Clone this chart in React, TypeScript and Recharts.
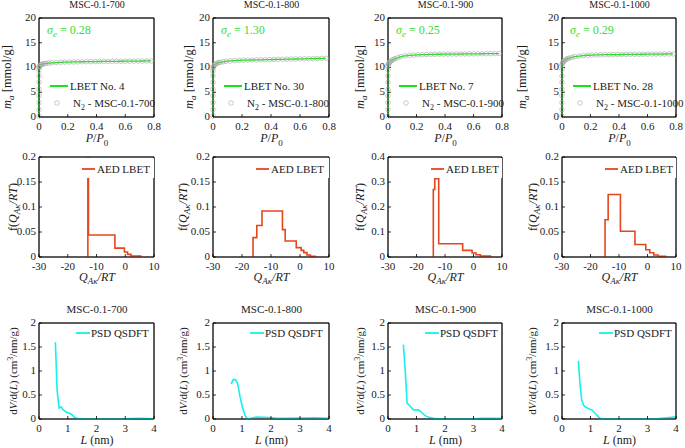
import React from 'react';
import { ComposedChart, Line, Scatter, XAxis, YAxis, ReferenceArea } from 'recharts';

const FONT = '"Liberation Serif", "DejaVu Serif", serif';
const GREEN = '#16e616';
const GREEN_TEXT = '#33dd33';
const RED = '#e5461e';
const CYAN = '#14f0f0';
const RING = '#a6a6a6';

// sample names and legend numbers
const samples = ['MSC-0.1-700', 'MSC-0.1-800', 'MSC-0.1-900', 'MSC-0.1-1000'];
const sigmaE = ['0.28', '1.30', '0.25', '0.29'];
const lbetNo = ['4', '30', '7', '28'];

// N2 isotherms: relative pressure and uptake (mmol/g)
const pRel = [0, 0, 0, 0, 0, 0, 0, 0, 0, 0.002, 0.005, 0.01, 0.015, 0.02, 0.03, 0.04, 0.05, 0.07, 0.09,
  0.12, 0.15, 0.18, 0.21, 0.24, 0.27, 0.3, 0.33, 0.36, 0.39, 0.42, 0.45, 0.48, 0.51, 0.54, 0.57, 0.6,
  0.63, 0.66, 0.69, 0.72, 0.75, 0.78];
const uptake700 = [0.2, 1.5, 2.9, 4.3, 5.6, 7.0, 8.3, 9.4, 10.0, 10.2, 10.35, 10.5, 10.6, 10.65, 10.75, 10.8, 10.85, 10.9, 10.95,
  11.0, 11.05, 11.08, 11.1, 11.12, 11.14, 11.16, 11.18, 11.19, 11.2, 11.21, 11.22, 11.23, 11.24, 11.25, 11.26, 11.27,
  11.28, 11.29, 11.3, 11.31, 11.32, 11.33];
const uptake800 = [0.2, 1.5, 2.9, 4.3, 5.6, 7.0, 8.3, 9.3, 9.9, 10.1, 10.3, 10.5, 10.65, 10.75, 10.9, 11.0, 11.05, 11.15, 11.25,
  11.32, 11.38, 11.43, 11.47, 11.5, 11.52, 11.54, 11.56, 11.58, 11.6, 11.62, 11.64, 11.66, 11.68, 11.7, 11.72, 11.74,
  11.76, 11.78, 11.8, 11.82, 11.84, 11.86];
const uptake900 = [0.2, 1.5, 2.9, 4.3, 5.6, 7.0, 8.3, 9.5, 10.3, 10.6, 10.8, 11.0, 11.15, 11.3, 11.5, 11.65, 11.8, 12.0, 12.2,
  12.35, 12.45, 12.52, 12.57, 12.6, 12.62, 12.64, 12.66, 12.68, 12.69, 12.7, 12.71, 12.72, 12.73, 12.74, 12.75, 12.76,
  12.77, 12.78, 12.79, 12.8, 12.81, 12.82];
const uptake1000 = [0.2, 1.5, 2.9, 4.3, 5.6, 7.0, 8.3, 9.6, 10.5, 10.8, 11.0, 11.2, 11.35, 11.45, 11.65, 11.8, 11.9, 12.05, 12.2,
  12.3, 12.4, 12.47, 12.52, 12.55, 12.57, 12.59, 12.6, 12.61, 12.62, 12.63, 12.64, 12.65, 12.66, 12.67, 12.68, 12.69,
  12.7, 12.71, 12.72, 12.73, 12.74, 12.75];

// adsorption energy distributions (step edges, value holds until next edge)
const aedQ700 = [-13.0, -13.0, -12.8, -3.6, -0.3, 0.8, 2.0, 5.4];
const aedF700 = [0, 0.25, 0.044, 0.0178, 0.0099, 0.0053, 0.002, 0];
const aedQ800 = [-16.2, -16.2, -14.9, -13.1, -6.05, -5.1, -1.3, 0.4, 1.3, 2.4, 3.6, 5.3];
const aedF800 = [0, 0.0387, 0.063, 0.092, 0.0547, 0.032, 0.0187, 0.0133, 0.0087, 0.004, 0.0015, 0];
const aedQ900 = [-14.1, -14.1, -13.6, -12.2, -3.8, -0.5, 0.9, 2.4, 5.9];
const aedF900 = [0, 0.27, 0.313, 0.053, 0.0264, 0.0158, 0.009, 0.004, 0];
const aedQ1000 = [-14.9, -14.9, -13.8, -9.5, -4.4, -0.6, 0.8, 2.2, 3.7, 6.3];
const aedF1000 = [0, 0.0746, 0.125, 0.0515, 0.025, 0.0145, 0.0086, 0.004, 0.0015, 0];

// pore size distributions (QSDFT)
const psdL700 = [0.57, 0.63, 0.7, 0.77, 0.85, 0.95, 1.06, 1.15, 1.23, 1.34, 1.63, 2.0, 2.5, 3.0, 3.2, 3.5, 3.8, 4.0];
const psdV700 = [1.6, 0.6, 0.23, 0.25, 0.19, 0.14, 0.12, 0.09, 0.035, 0.01, 0, 0, 0, 0.005, 0.01, 0.015, 0.01, 0.005];
const psdL800 = [0.625, 0.7, 0.77, 0.85, 0.93, 1.02, 1.11, 1.19, 1.31, 1.5, 1.76, 2.16, 2.5, 3.0, 3.5, 4.0];
const psdV800 = [0.73, 0.82, 0.82, 0.74, 0.47, 0.23, 0.07, 0, 0.015, 0.04, 0.035, 0.02, 0.015, 0.02, 0.025, 0.015];
const psdL900 = [0.54, 0.61, 0.67, 0.77, 0.89, 1.04, 1.1, 1.21, 1.3, 1.44, 1.67, 2.0, 3.0, 3.3, 3.7, 4.0];
const psdV900 = [1.55, 0.95, 0.33, 0.27, 0.19, 0.19, 0.18, 0.12, 0.07, 0.035, 0.007, 0, 0.005, 0.015, 0.015, 0.008];
const psdL1000 = [0.575, 0.63, 0.69, 0.77, 0.885, 1.07, 1.18, 1.3, 1.38, 2.0, 3.0, 3.3, 3.6, 4.0];
const psdV1000 = [1.21, 0.74, 0.4, 0.27, 0.23, 0.18, 0.11, 0.035, 0, 0, 0, 0.005, 0.02, 0.045];

// axis ticks
const isoXTicks = [0, 0.2, 0.4, 0.6, 0.8];
const isoYTicks = [0, 5, 10, 15, 20];
const aedXTicks = [-30, -20, -10, 0, 10];
const aedYTicks = [0, 0.05, 0.1, 0.15, 0.2];
const aedYTicks900 = [0, 0.1, 0.2, 0.3, 0.4];
const psdXTicks = [0, 1, 2, 3, 4];
const psdYTicks = [0, 0.5, 1, 1.5, 2];

const zip = (xs: number[], ys: number[]) => xs.map((x, i) => ({ x, y: ys[i] }));

const isoData = [uptake700, uptake800, uptake900, uptake1000].map(u => zip(pRel, u));
const aedData = [zip(aedQ700, aedF700), zip(aedQ800, aedF800), zip(aedQ900, aedF900), zip(aedQ1000, aedF1000)];
const psdData = [zip(psdL700, psdV700), zip(psdL800, psdV800), zip(psdL900, psdV900), zip(psdL1000, psdV1000)];

// layout of the 4x3 grid (plot areas)
const colLeft = [39, 213, 388, 562];
const colWidth = [116, 117, 115, 115];
const rowTop = [17, 156, 322];
const rowHeight = [100, 101, 97];
const PAD_L = 32, PAD_R = 6, PAD_T = 6, PAD_B = 22;

type PanelProps = {
  col: number;
  row: number;
  data: { x: number; y: number }[];
  xDomain: [number, number];
  xTicks: number[];
  yDomain: [number, number];
  yTicks: number[];
  clip?: boolean;
  children: React.ReactNode;
};

const axisLine = { stroke: '#000', strokeWidth: 0.8 };
const tickLine = { stroke: '#000', strokeWidth: 0.8 };

function Panel({ col, row, data, xDomain, xTicks, yDomain, yTicks, clip, children }: PanelProps) {
  const w = PAD_L + colWidth[col] + PAD_R;
  const h = PAD_T + rowHeight[row] + PAD_B;
  const tick = { fill: '#1a1a1a', fontSize: 11, fontFamily: FONT };
  return (
    <div style={{ position: 'absolute', left: colLeft[col] - PAD_L, top: rowTop[row] - PAD_T, width: w, height: h }}>
      <ComposedChart width={w} height={h} data={data} margin={{ top: PAD_T, right: PAD_R, bottom: 0, left: 0 }}>
        <XAxis xAxisId="b" dataKey="x" type="number" domain={xDomain} ticks={xTicks} interval={0} height={PAD_B}
          tickSize={-3} tickMargin={8} tick={tick} axisLine={axisLine} tickLine={tickLine} allowDataOverflow={clip} />
        <XAxis xAxisId="t" orientation="top" dataKey="x" type="number" domain={xDomain} ticks={xTicks} interval={0}
          height={1} tickSize={-3} tick={false} axisLine={axisLine} tickLine={tickLine} />
        <YAxis yAxisId="l" dataKey="y" type="number" domain={yDomain} ticks={yTicks} interval={0} width={PAD_L}
          tickSize={-3} tickMargin={6} tick={{ ...tick, dy: -1 }} axisLine={axisLine} tickLine={tickLine} allowDataOverflow={clip} />
        <YAxis yAxisId="r" orientation="right" dataKey="y" type="number" domain={yDomain} ticks={yTicks} interval={0}
          width={1} tickSize={-3} tick={false} axisLine={axisLine} tickLine={tickLine} />
        <ReferenceArea xAxisId="b" yAxisId="l" x1={xDomain[0]} x2={xDomain[1]} y1={yDomain[0]} y2={yDomain[1]}
          fill="none" stroke="#000" strokeWidth={0.8} ifOverflow="visible" />
        {children}
      </ComposedChart>
    </div>
  );
}

const ring = (props: any) => (
  <circle cx={props.cx} cy={props.cy} r={2.3} fill="none" stroke={RING} strokeWidth={0.6} />
);

const row1YLab = [7, 189, 360, 522];
const row2YLab = [13, 183, 360, 533];
const row3YLab = [13, 183, 360, 532];

function Overlay() {
  const els: React.ReactNode[] = [];
  for (let c = 0; c < 4; c++) {
    const L = colLeft[c];
    const W = colWidth[c];
    const cx = L + W / 2;
    const t1 = rowTop[0], t2 = rowTop[1], t3 = rowTop[2];
    els.push(
      <g key={c}>
        {/* row 1 */}
        <text x={cx} y={8} textAnchor="middle" fontSize={10}>{samples[c]}</text>
        <text x={L + 8} y={t1 + 17} fontSize={12} fill={GREEN_TEXT}>
          <tspan fontStyle="italic">σ</tspan>
          <tspan fontStyle="italic" fontSize={9} dy={3}>e</tspan>
          <tspan dy={-3}> = {sigmaE[c]}</tspan>
        </text>
        <line x1={L + 11} x2={L + 29} y1={t1 + 69} y2={t1 + 69} stroke={GREEN} strokeWidth={2} />
        <text x={L + 31} y={t1 + 73} fontSize={11}>LBET No. {lbetNo[c]}</text>
        <circle cx={L + 18} cy={t1 + 86} r={2.3} fill="none" stroke={RING} strokeWidth={0.6} />
        <text x={L + 34} y={t1 + 90} fontSize={11}>
          N<tspan fontSize={8} dy={3}>2</tspan><tspan dy={-3}> - {samples[c]}</tspan>
        </text>
        <text x={cx} y={142} textAnchor="middle" fontSize={12}>
          <tspan fontStyle="italic">P</tspan>/<tspan fontStyle="italic">P</tspan>
          <tspan fontSize={9} dy={4}>0</tspan>
        </text>
        <text x={row1YLab[c] + 4} y={77} transform={`rotate(-90 ${row1YLab[c] + 4} 77)`} textAnchor="middle" fontSize={12.5}>
          <tspan fontStyle="italic">m</tspan>
          <tspan fontStyle="italic" fontSize={9} dy={3}>a</tspan>
          <tspan dy={-3}> [mmol/g]</tspan>
        </text>

        {/* row 2 */}
        <rect x={L + 36} y={t2 + 2} width={W - 37} height={20} fill="#fff" />
        <line x1={L + 43} x2={L + 56} y1={t2 + 13} y2={t2 + 13} stroke={RED} strokeWidth={1.8} />
        <text x={L + 58} y={t2 + 17} fontSize={11}>AED LBET</text>
        <text x={cx} y={281} textAnchor="middle" fontSize={12}>
          <tspan fontStyle="italic">Q</tspan>
          <tspan fontStyle="italic" fontSize={9} dy={3}>Aκ</tspan>
          <tspan fontStyle="italic" dy={-3}>/RT</tspan>
        </text>
        <text x={row2YLab[c] + 4} y={207} transform={`rotate(-90 ${row2YLab[c] + 4} 207)`} textAnchor="middle" fontSize={12}>
          f(<tspan fontStyle="italic">Q</tspan>
          <tspan fontStyle="italic" fontSize={9} dy={3}>Aκ</tspan>
          <tspan fontStyle="italic" dy={-3}>/RT</tspan>)
        </text>

        {/* row 3 */}
        <text x={cx} y={313} textAnchor="middle" fontSize={11}>{samples[c]}</text>
        <line x1={L + 37} x2={L + 51} y1={t3 + 11} y2={t3 + 11} stroke={CYAN} strokeWidth={1.8} />
        <text x={L + 52} y={t3 + 15} fontSize={11}>PSD QSDFT</text>
        <text x={cx} y={444} textAnchor="middle" fontSize={12}>
          <tspan fontStyle="italic">L</tspan> (nm)
        </text>
        <text x={row3YLab[c] + 4} y={371} transform={`rotate(-90 ${row3YLab[c] + 4} 371)`} textAnchor="middle" fontSize={11}>
          d<tspan fontStyle="italic">V</tspan>/d(<tspan fontStyle="italic">L</tspan>) (cm
          <tspan fontSize={8} dy={-4}>3</tspan>
          <tspan dy={4}>/nm/g)</tspan>
        </text>
      </g>
    );
  }
  return (
    <svg width={685} height={448} style={{ position: 'absolute', left: 0, top: 0, pointerEvents: 'none' }}
      fontFamily={FONT} fill="#1a1a1a">
      {els}
    </svg>
  );
}

export default function App() {
  return (
    <div style={{ position: 'absolute', left: 0, top: 0, width: 685, height: 448, background: '#fff', overflow: 'hidden' }}>
      {isoData.map((d, c) => (
        <Panel key={`iso${c}`} col={c} row={0} data={d} xDomain={[0, 0.8]} xTicks={isoXTicks} yDomain={[0, 20]} yTicks={isoYTicks}>
          <Line xAxisId="b" yAxisId="l" dataKey="y" type="linear" stroke={GREEN} strokeWidth={1.3} dot={false} isAnimationActive={false} />
          <Scatter xAxisId="b" yAxisId="l" data={d} dataKey="y" shape={ring} isAnimationActive={false} />
        </Panel>
      ))}
      {aedData.map((d, c) => (
        <Panel key={`aed${c}`} col={c} row={1} data={d} xDomain={[-30, 10]} xTicks={aedXTicks}
          yDomain={c === 2 ? [0, 0.4] : [0, 0.2]} yTicks={c === 2 ? aedYTicks900 : aedYTicks} clip>
          <Line xAxisId="b" yAxisId="l" dataKey="y" type="stepAfter" stroke={RED} strokeWidth={1.6} dot={false} isAnimationActive={false} />
        </Panel>
      ))}
      {psdData.map((d, c) => (
        <Panel key={`psd${c}`} col={c} row={2} data={d} xDomain={[0, 4]} xTicks={psdXTicks} yDomain={[0, 2]} yTicks={psdYTicks}>
          <Line xAxisId="b" yAxisId="l" dataKey="y" type="linear" stroke={CYAN} strokeWidth={1.6} dot={false} isAnimationActive={false} />
        </Panel>
      ))}
      <Overlay />
    </div>
  );
}
